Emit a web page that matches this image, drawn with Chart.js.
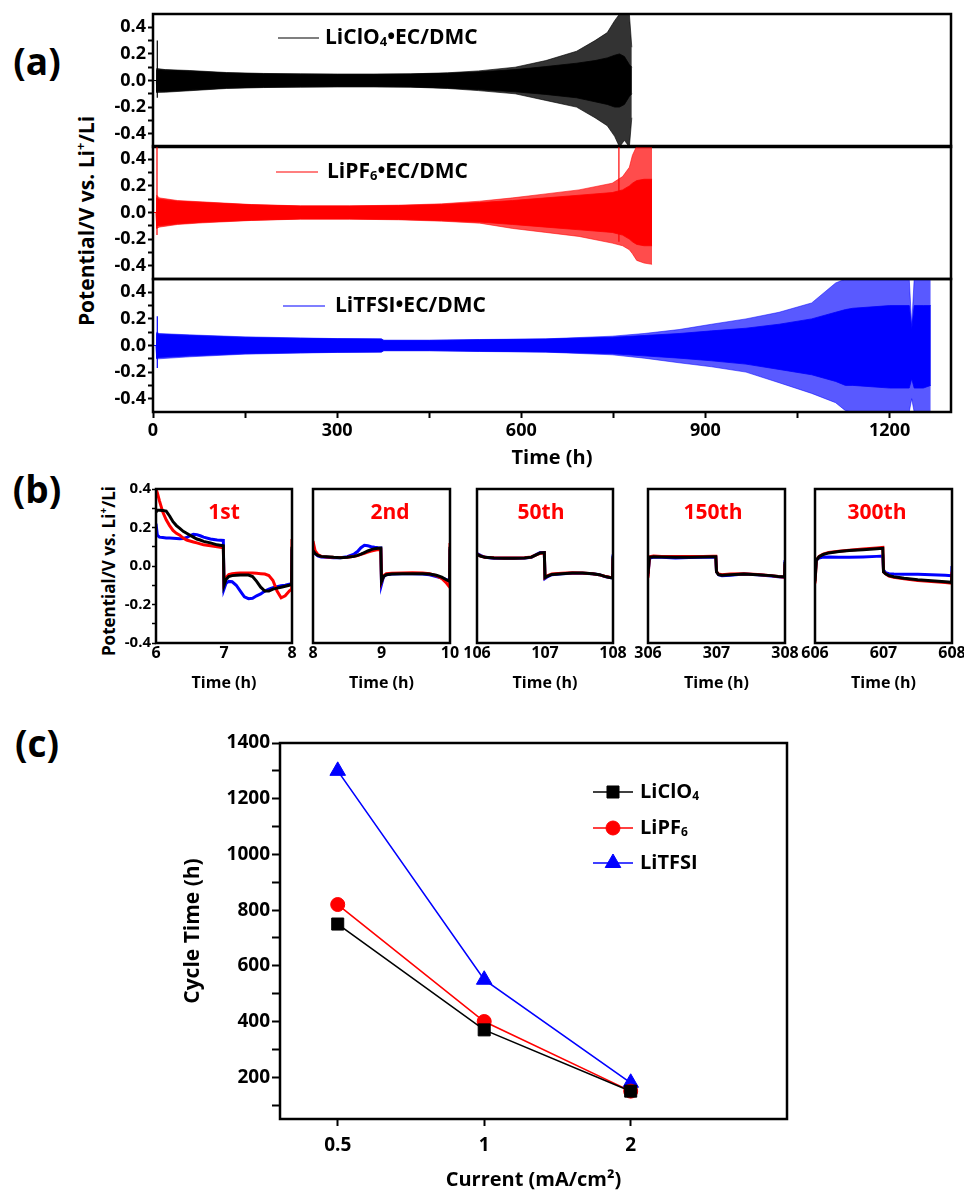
<!DOCTYPE html>
<html>
<head>
<meta charset="utf-8">
<title>Li | Li cycling in three electrolytes</title>
<script src="https://cdn.jsdelivr.net/npm/chart.js@4.4.1/dist/chart.umd.min.js"></script>
<style>
  body { margin: 0; background: #fff; }
  #page { position: relative; width: 964px; height: 1193px; overflow: hidden;
          font-family: 'Open Sans', sans-serif; font-weight: 700; color: #000; }
  #page canvas { position: absolute; }
  .tag { position: absolute; font-size: 37px; line-height: 1; transform: translate(-50%, -50%); }
  .ytitle { position: absolute; white-space: nowrap; line-height: 1;
            transform: translate(-50%, -50%) rotate(-90deg); }
  .ytitle sup { font-size: 0.6em; vertical-align: 0.7em; line-height: 0; }
</style>
</head>
<body>
<div id="page">
  <div class="tag" style="left:37px;top:60px">(a)</div>
  <div class="tag" style="left:37px;top:488px">(b)</div>
  <div class="tag" style="left:37px;top:742px">(c)</div>
  <div class="ytitle" style="left:86px;top:221px;font-size:21px">Potential/V vs. Li<sup>+</sup>/Li</div>
  <div class="ytitle" style="left:108px;top:571px;font-size:17px">Potential/V vs. Li<sup>+</sup>/Li</div>
</div>
<script>
// ---------- (a) long cycling: envelope of the voltage trace (upper / lower) ----------
const aXTicks  = [0, 150, 300, 450, 600, 750, 900, 1050, 1200];
const aXLabels = ['0', '', '300', '', '600', '', '900', '', '1200'];
const aYTicks  = [-0.4, -0.3, -0.2, -0.1, 0, 0.1, 0.2, 0.3, 0.4];
const aYLabels = ['-0.4', '', '-0.2', '', '0.0', '', '0.2', '', '0.4'];

// LiClO4 / EC-DMC
const clo4Time   = [0, 5.5, 6, 20, 60, 120, 180, 240, 300, 360, 420, 480, 530, 590, 640, 690, 720, 740, 752, 760, 768, 776, 780];
const clo4Hi     = [0, 0, 0.09, 0.082, 0.075, 0.06, 0.053, 0.05, 0.048, 0.048, 0.05, 0.058, 0.072, 0.1, 0.15, 0.22, 0.3, 0.36, 0.45, 0.5, 0.5, 0.5, 0.25];
const clo4Lo     = [0, 0, -0.09, -0.088, -0.077, -0.06, -0.053, -0.05, -0.048, -0.048, -0.05, -0.06, -0.076, -0.1, -0.15, -0.2, -0.28, -0.34, -0.42, -0.5, -0.45, -0.5, -0.28];
const clo4CoreHi = [0, 0, 0.08, 0.078, 0.07, 0.056, 0.05, 0.047, 0.046, 0.046, 0.048, 0.054, 0.064, 0.082, 0.105, 0.13, 0.15, 0.17, 0.19, 0.2, 0.18, 0.12, 0.1];
const clo4CoreLo = [0, 0, -0.08, -0.082, -0.072, -0.056, -0.05, -0.047, -0.046, -0.046, -0.048, -0.056, -0.068, -0.085, -0.105, -0.13, -0.16, -0.18, -0.2, -0.2, -0.18, -0.12, -0.1];
const clo4SpikeT = [7];
const clo4SpikeLo = [-0.13];
const clo4SpikeHi = [0.3];

// LiPF6 / EC-DMC
const pf6Time   = [0, 5, 6, 10, 40, 80, 160, 240, 320, 400, 470, 532, 586, 640, 694, 748, 765, 776, 781, 788, 800, 813];
const pf6Hi     = [0, 0, 0.13, 0.11, 0.09, 0.08, 0.06, 0.05, 0.05, 0.055, 0.065, 0.085, 0.11, 0.14, 0.17, 0.22, 0.27, 0.34, 0.43, 0.5, 0.5, 0.5];
const pf6Lo     = [0, 0, -0.12, -0.11, -0.09, -0.078, -0.06, -0.05, -0.05, -0.055, -0.065, -0.08, -0.12, -0.15, -0.18, -0.23, -0.25, -0.28, -0.31, -0.36, -0.38, -0.39];
const pf6CoreHi = [0, 0, 0.11, 0.1, 0.085, 0.075, 0.058, 0.048, 0.048, 0.052, 0.06, 0.075, 0.09, 0.11, 0.13, 0.15, 0.17, 0.2, 0.22, 0.24, 0.25, 0.25];
const pf6CoreLo = [0, 0, -0.1, -0.1, -0.085, -0.073, -0.058, -0.048, -0.048, -0.052, -0.06, -0.072, -0.09, -0.11, -0.13, -0.15, -0.17, -0.2, -0.22, -0.24, -0.25, -0.25];
const pf6SpikeT  = [6.5, 759];
const pf6SpikeLo = [-0.17, -0.22];
const pf6SpikeHi = [0.5, 0.5];

// LiTFSI / EC-DMC
const tfsiTime   = [0, 5, 6, 10, 60, 150, 240, 300, 372, 376, 450, 532, 640, 748, 800, 857, 910, 966, 1020, 1073, 1112, 1128, 1140, 1200, 1232, 1236, 1240, 1255, 1267];
const tfsiHi     = [0, 0, 0.1, 0.09, 0.08, 0.065, 0.057, 0.052, 0.05, 0.04, 0.04, 0.045, 0.05, 0.07, 0.09, 0.12, 0.16, 0.2, 0.25, 0.32, 0.47, 0.5, 0.5, 0.5, 0.5, 0.15, 0.5, 0.5, 0.5];
const tfsiLo     = [0, 0, -0.1, -0.1, -0.085, -0.065, -0.057, -0.052, -0.05, -0.04, -0.04, -0.045, -0.05, -0.07, -0.095, -0.13, -0.16, -0.2, -0.28, -0.36, -0.43, -0.49, -0.5, -0.5, -0.5, -0.4, -0.5, -0.5, -0.5];
const tfsiCoreHi = [0, 0, 0.09, 0.085, 0.075, 0.06, 0.054, 0.05, 0.048, 0.038, 0.038, 0.043, 0.048, 0.062, 0.075, 0.09, 0.11, 0.13, 0.16, 0.2, 0.25, 0.27, 0.28, 0.3, 0.3, 0.12, 0.3, 0.3, 0.3];
const tfsiCoreLo = [0, 0, -0.09, -0.09, -0.078, -0.06, -0.054, -0.05, -0.048, -0.038, -0.038, -0.043, -0.048, -0.062, -0.078, -0.095, -0.115, -0.14, -0.18, -0.22, -0.27, -0.3, -0.3, -0.32, -0.32, -0.25, -0.32, -0.32, -0.3];
const tfsiSpikeT  = [7];
const tfsiSpikeLo = [-0.17];
const tfsiSpikeHi = [0.22];

// ---------- (b) single cycles (black = LiClO4, red = LiPF6, blue = LiTFSI) ----------
const bYTicks  = [-0.4, -0.3, -0.2, -0.1, 0, 0.1, 0.2, 0.3, 0.4];
const bYLabels = ['-0.4', '', '-0.2', '', '0.0', '', '0.2', '', '0.4'];
const bCycleNames = ['1st', '2nd', '50th', '150th', '300th'];

const b1Ticks = [6, 7, 8];
const b1Time  = [6.00, 6.02, 6.05, 6.10, 6.15, 6.20, 6.25, 6.30, 6.35, 6.40, 6.45, 6.50, 6.55, 6.60, 6.65, 6.70, 6.80, 6.90, 6.99, 7.00,
                 7.03, 7.07, 7.12, 7.18, 7.24, 7.30, 7.36, 7.42, 7.48, 7.54, 7.60, 7.66, 7.72, 7.78, 7.84, 7.90, 7.96, 7.995, 8.00];
const b1ClO4  = [0.28, 0.29, 0.29, 0.288, 0.285, 0.26, 0.23, 0.21, 0.195, 0.18, 0.17, 0.16, 0.15, 0.14, 0.135, 0.128, 0.12, 0.11, 0.105, -0.1,
                 -0.07, -0.055, -0.05, -0.048, -0.047, -0.047, -0.047, -0.055, -0.08, -0.11, -0.13, -0.13, -0.12, -0.115, -0.11, -0.105, -0.1, -0.095, 0.1];
const b1PF6   = [0.4, 0.38, 0.34, 0.28, 0.24, 0.21, 0.185, 0.17, 0.16, 0.145, 0.135, 0.13, 0.125, 0.12, 0.115, 0.11, 0.105, 0.1, 0.095, -0.085,
                 -0.06, -0.045, -0.04, -0.038, -0.037, -0.036, -0.036, -0.037, -0.038, -0.04, -0.042, -0.05, -0.075, -0.13, -0.165, -0.155, -0.13, -0.12, 0.14];
const b1TFSI  = [0.22, 0.16, 0.15, 0.148, 0.146, 0.145, 0.144, 0.143, 0.142, 0.143, 0.148, 0.158, 0.165, 0.163, 0.157, 0.15, 0.14, 0.135, 0.133, -0.12,
                 -0.09, -0.08, -0.082, -0.1, -0.13, -0.16, -0.17, -0.168, -0.155, -0.145, -0.13, -0.12, -0.113, -0.108, -0.103, -0.1, -0.095, -0.092, 0.09];

const b2Ticks = [8, 9, 10];
const b2Time  = [8.00, 8.03, 8.07, 8.12, 8.2, 8.3, 8.4, 8.5, 8.6, 8.65, 8.7, 8.75, 8.8, 8.85, 8.9, 8.95, 8.99, 9.00, 9.03, 9.07,
                 9.15, 9.3, 9.45, 9.6, 9.7, 9.8, 9.88, 9.94, 9.995, 10.00];
const b2ClO4  = [0.08, 0.065, 0.055, 0.05, 0.048, 0.045, 0.043, 0.045, 0.05, 0.055, 0.062, 0.07, 0.078, 0.085, 0.09, 0.092, 0.093, -0.08, -0.055, -0.045,
                 -0.042, -0.04, -0.04, -0.04, -0.042, -0.048, -0.058, -0.07, -0.08, 0.1];
const b2PF6   = [0.13, 0.08, 0.06, 0.05, 0.047, 0.045, 0.044, 0.045, 0.05, 0.054, 0.06, 0.066, 0.072, 0.078, 0.082, 0.085, 0.086, -0.08, -0.05, -0.04,
                 -0.038, -0.036, -0.035, -0.036, -0.04, -0.05, -0.065, -0.085, -0.11, 0.12];
const b2TFSI  = [0.09, 0.065, 0.052, 0.047, 0.045, 0.043, 0.043, 0.048, 0.062, 0.075, 0.095, 0.108, 0.105, 0.1, 0.097, 0.095, 0.094, -0.095, -0.055, -0.045,
                 -0.042, -0.04, -0.04, -0.042, -0.046, -0.055, -0.062, -0.07, -0.078, 0.09];

const b3Ticks = [106, 107, 108];
const b3Time  = [106.00, 106.05, 106.12, 106.25, 106.4, 106.55, 106.7, 106.8, 106.87, 106.93, 106.99,
                 107.00, 107.04, 107.1, 107.25, 107.4, 107.55, 107.7, 107.8, 107.88, 107.95, 107.995, 108.00];
const b3ClO4  = [0.06, 0.052, 0.045, 0.041, 0.04, 0.04, 0.042, 0.046, 0.058, 0.068, 0.07,
                 -0.06, -0.052, -0.044, -0.04, -0.037, -0.037, -0.04, -0.045, -0.054, -0.06, -0.062, 0.05];
const b3PF6   = [0.06, 0.052, 0.046, 0.043, 0.042, 0.041, 0.043, 0.047, 0.058, 0.066, 0.068,
                 -0.06, -0.05, -0.042, -0.038, -0.035, -0.036, -0.04, -0.046, -0.053, -0.058, -0.06, 0.04];
const b3TFSI  = [0.065, 0.055, 0.045, 0.04, 0.04, 0.04, 0.041, 0.045, 0.06, 0.07, 0.07,
                 -0.065, -0.055, -0.045, -0.04, -0.038, -0.038, -0.04, -0.045, -0.055, -0.06, -0.062, 0.06];

const b4Ticks = [306, 307, 308];
const b4Time  = [306.00, 306.02, 306.08, 306.2, 306.4, 306.6, 306.8, 306.95, 306.99,
                 307.00, 307.03, 307.08, 307.2, 307.4, 307.6, 307.8, 307.9, 307.995, 308.00];
const b4ClO4  = [-0.04, 0.045, 0.048, 0.047, 0.046, 0.046, 0.047, 0.048, 0.048,
                 -0.03, -0.045, -0.048, -0.045, -0.042, -0.045, -0.05, -0.054, -0.056, 0.02];
const b4PF6   = [-0.06, 0.048, 0.052, 0.05, 0.05, 0.05, 0.05, 0.051, 0.051,
                 -0.03, -0.042, -0.045, -0.042, -0.04, -0.044, -0.05, -0.055, -0.058, 0.01];
const b4TFSI  = [-0.05, 0.04, 0.046, 0.045, 0.042, 0.044, 0.045, 0.046, 0.046,
                 -0.03, -0.045, -0.05, -0.048, -0.042, -0.045, -0.052, -0.056, -0.058, 0.03];

const b5Ticks = [606, 607, 608];
const b5Time  = [606.00, 606.02, 606.06, 606.12, 606.2, 606.35, 606.5, 606.7, 606.9, 606.99,
                 607.00, 607.03, 607.08, 607.15, 607.3, 607.5, 607.7, 607.9, 607.995, 608.00];
const b5ClO4  = [-0.08, 0.03, 0.048, 0.06, 0.068, 0.075, 0.08, 0.085, 0.09, 0.092,
                 -0.03, -0.04, -0.05, -0.056, -0.064, -0.072, -0.077, -0.082, -0.085, -0.04];
const b5PF6   = [-0.09, 0.03, 0.05, 0.062, 0.07, 0.077, 0.082, 0.088, 0.094, 0.097,
                 -0.03, -0.04, -0.052, -0.058, -0.066, -0.075, -0.081, -0.086, -0.089, -0.03];
const b5TFSI  = [-0.05, 0.03, 0.042, 0.046, 0.047, 0.046, 0.045, 0.047, 0.05, 0.052,
                 -0.02, -0.035, -0.04, -0.042, -0.043, -0.043, -0.045, -0.048, -0.05, 0.0];

// ---------- (c) cycle time vs current density ----------
const currentLabels = ['0.5', '1', '2'];
const currentIdx    = [0, 1, 2];
const cycleClO4 = [750, 370, 150];
const cyclePF6  = [820, 400, 150];
const cycleTFSI = [1300, 550, 180];
const cYTicks  = [100, 200, 300, 400, 500, 600, 700, 800, 900, 1000, 1100, 1200, 1300, 1400];
const cYLabels = ['', '200', '', '400', '', '600', '', '800', '', '1000', '', '1200', '', '1400'];

// ---------- helpers ----------
Chart.defaults.font.family = '"Open Sans", sans-serif';
Chart.defaults.font.weight = 'bold';
Chart.defaults.color = '#000';
Chart.defaults.animation = false;
Chart.defaults.plugins.legend.display = false;
Chart.defaults.plugins.tooltip.enabled = false;
Chart.defaults.elements.point.radius = 0;
Chart.defaults.elements.line.tension = 0;

const page = document.getElementById('page');
const BLACK = '#000000', RED = '#ff0000', BLUE = '#0000ff';

function makeCanvas(left, top, w, h) {
  const c = document.createElement('canvas');
  c.width = w; c.height = h;
  c.style.left = left + 'px'; c.style.top = top + 'px';
  c.style.width = w + 'px'; c.style.height = h + 'px';
  page.appendChild(c);
  return c;
}
const pts = (xs, ys) => xs.map((x, i) => ({x: x, y: ys[i]}));
function spikePts(ts, lo, hi) {
  const out = [];
  ts.forEach((t, i) => { out.push({x: t, y: lo[i]}, {x: t, y: hi[i]}, {x: t, y: null}); });
  return out;
}

function drawRich(ctx, x, y, parts, size, align) {
  const fontFor = sub => `bold ${sub ? Math.round(size * 0.62) : size}px "Open Sans", sans-serif`;
  let w = 0;
  parts.forEach(([t, sub]) => { ctx.font = fontFor(sub); w += ctx.measureText(t).width; });
  if (align === 'center') x -= w / 2;
  ctx.textAlign = 'left';
  ctx.textBaseline = 'middle';
  parts.forEach(([t, sub]) => {
    ctx.font = fontFor(sub);
    ctx.fillText(t, x, sub ? y + size * 0.22 : y);
    x += ctx.measureText(t).width;
  });
}

const frame = {
  id: 'frame',
  afterDatasetsDraw(chart) {
    const {ctx, chartArea: a} = chart;
    ctx.save();
    ctx.strokeStyle = '#000';
    ctx.lineWidth = 2.5;
    ctx.strokeRect(a.left, a.top, a.right - a.left, a.bottom - a.top);
    ctx.restore();
  }
};

// labels / legend samples, given in page coordinates
function makeNote(items, ox, oy) {
  return {
    id: 'note',
    afterDraw(chart) {
      const ctx = chart.ctx;
      ctx.save();
      items.forEach(it => {
        const y = it.y - oy;
        if (it.line) {
          ctx.strokeStyle = it.lineColor;
          ctx.lineWidth = it.lineWidth || 1.2;
          ctx.beginPath();
          ctx.moveTo(it.line[0] - ox, y);
          ctx.lineTo(it.line[1] - ox, y);
          ctx.stroke();
        }
        if (it.marker) {
          ctx.fillStyle = it.lineColor;
          ctx.strokeStyle = it.lineColor;
          ctx.lineWidth = 1;
          Chart.helpers.drawPoint(ctx, {pointStyle: it.marker, radius: it.radius, rotation: 0, borderWidth: 1},
                                  (it.line[0] + it.line[1]) / 2 - ox, y);
        }
        ctx.fillStyle = it.color || '#000';
        drawRich(ctx, it.x - ox, y, it.parts, it.size, it.align);
      });
      ctx.restore();
    }
  };
}

// ---------- (a) ----------
function bandSets(time, hi, lo, coreHi, coreLo, sT, sLo, sHi, color, soft) {
  return [
    {data: pts(time, hi), borderColor: soft, borderWidth: 0.8, fill: false},
    {data: pts(time, lo), borderColor: soft, borderWidth: 0.8, backgroundColor: soft, fill: '-1'},
    {data: pts(time, coreHi), borderColor: color, borderWidth: 0.8, fill: false},
    {data: pts(time, coreLo), borderColor: color, borderWidth: 0.8, backgroundColor: color, fill: '-1'},
    {data: spikePts(sT, sLo, sHi), borderColor: color, borderWidth: 1.2, fill: false, spanGaps: false}
  ];
}

function aPanel(top, padTop, padBottom, withX, sets, note) {
  const h = padTop + 133 + (withX ? 60 : 0) + padBottom;
  const cv = makeCanvas(0, top, 964, h);
  new Chart(cv, {
    type: 'line',
    data: {datasets: sets},
    options: {
      responsive: false,
      layout: {padding: {left: 0, right: 13, top: padTop, bottom: padBottom}},
      scales: {
        x: {
          type: 'linear', min: 0, max: 1300, display: withX,
          afterBuildTicks: s => { s.ticks = aXTicks.map(v => ({value: v})); },
          afterFit: s => { s.height = withX ? 60 : 0; },
          ticks: {font: {size: 18}, padding: 2, maxRotation: 0, autoSkip: false, callback: (v, i) => aXLabels[i]},
          grid: {drawOnChartArea: false, tickLength: 6, tickWidth: 2, color: '#000'},
          border: {display: false},
          title: {display: true, text: 'Time (h)', font: {size: 20}, padding: {top: 2, bottom: 2}}
        },
        y: {
          min: -0.5, max: 0.5,
          afterBuildTicks: s => { s.ticks = aYTicks.map(v => ({value: v})); },
          afterFit: s => { s.width = 153; },
          ticks: {font: {size: 18}, padding: 2, autoSkip: false, callback: (v, i) => aYLabels[i]},
          grid: {drawOnChartArea: false, tickLength: 5, tickWidth: 2, color: '#000'},
          border: {display: false}
        }
      }
    },
    plugins: [frame, makeNote(note, 0, top)]
  });
}

aPanel(0, 14, 14, false,
  bandSets(clo4Time, clo4Hi, clo4Lo, clo4CoreHi, clo4CoreLo, clo4SpikeT, clo4SpikeLo, clo4SpikeHi, BLACK, 'rgba(0,0,0,0.8)'),
  [{x: 325, y: 38, line: [278, 319], lineColor: BLACK, size: 21, parts: [['LiClO', 0], ['4', 1], ['\u2022EC/DMC', 0]]}]);
aPanel(133, 13, 14, false,
  bandSets(pf6Time, pf6Hi, pf6Lo, pf6CoreHi, pf6CoreLo, pf6SpikeT, pf6SpikeLo, pf6SpikeHi, RED, 'rgba(255,0,0,0.7)'),
  [{x: 327, y: 172, line: [276, 318], lineColor: RED, size: 21, parts: [['LiPF', 0], ['6', 1], ['\u2022EC/DMC', 0]]}]);
aPanel(265, 14, 0, true,
  bandSets(tfsiTime, tfsiHi, tfsiLo, tfsiCoreHi, tfsiCoreLo, tfsiSpikeT, tfsiSpikeLo, tfsiSpikeHi, BLUE, 'rgba(0,0,255,0.65)'),
  [{x: 335, y: 306, line: [283, 325], lineColor: BLUE, size: 21, parts: [['LiTFSI\u2022EC/DMC', 0]]}]);

// ---------- (b) ----------
const bBoxes = [[156, 292], [313, 450], [477, 613], [648, 785], [815, 952]];
const bLabelX = [224, 390, 541, 713, 877];
const B_TOP = 489, B_BOTTOM = 643;

function bPanel(i, time, clo4, pf6, tfsi, xTicks) {
  const [l, r] = bBoxes[i];
  const first = i === 0;
  const padL = first ? 0 : 20, yW = first ? 50 : 0, padR = 18;
  const cl = l - yW - padL;
  const w = r - cl + padR;
  const top = B_TOP - 10;
  const h = 10 + (B_BOTTOM - B_TOP) + 55;
  const cv = makeCanvas(cl, top, w, h);
  const series = [[clo4, BLACK], [pf6, RED], [tfsi, BLUE]];
  new Chart(cv, {
    type: 'line',
    data: {datasets: series.map(([ys, c]) => ({data: pts(time, ys), borderColor: c, borderWidth: 3, fill: false}))},
    options: {
      responsive: false,
      layout: {padding: {left: padL, right: padR, top: 10, bottom: 0}},
      scales: {
        x: {
          type: 'linear', min: xTicks[0], max: xTicks[xTicks.length - 1],
          afterBuildTicks: s => { s.ticks = xTicks.map(v => ({value: v})); },
          afterFit: s => { s.height = 55; },
          ticks: {font: {size: 16}, padding: 1, maxRotation: 0, autoSkip: false, callback: v => String(v)},
          grid: {drawOnChartArea: false, drawTicks: false},
          border: {display: false},
          title: {display: true, text: 'Time (h)', font: {size: 16}, padding: {top: 5, bottom: 5}}
        },
        y: {
          min: -0.4, max: 0.4, display: first,
          afterBuildTicks: s => { s.ticks = bYTicks.map(v => ({value: v})); },
          afterFit: s => { s.width = yW; },
          ticks: {font: {size: 15}, padding: 1, autoSkip: false, callback: (v, k) => bYLabels[k]},
          grid: {drawOnChartArea: false, tickLength: 4, tickWidth: 1.5, color: '#000'},
          border: {display: false}
        }
      }
    },
    plugins: [frame, makeNote([{x: bLabelX[i], y: 513, size: 21, color: RED, align: 'center', parts: [[bCycleNames[i], 0]]}], cl, top)]
  });
}

bPanel(0, b1Time, b1ClO4, b1PF6, b1TFSI, b1Ticks);
bPanel(1, b2Time, b2ClO4, b2PF6, b2TFSI, b2Ticks);
bPanel(2, b3Time, b3ClO4, b3PF6, b3TFSI, b3Ticks);
bPanel(3, b4Time, b4ClO4, b4PF6, b4TFSI, b4Ticks);
bPanel(4, b5Time, b5ClO4, b5PF6, b5TFSI, b5Ticks);

// ---------- (c) ----------
(function () {
  const left = 150, top = 723;
  const cv = makeCanvas(left, top, 814, 470);
  const line = (ys, c, style, r) => ({
    data: pts(currentIdx, ys), borderColor: c, backgroundColor: c, borderWidth: 1.6, fill: false,
    pointStyle: style, pointRadius: r, pointBackgroundColor: c, pointBorderColor: c, pointBorderWidth: 1
  });
  new Chart(cv, {
    type: 'line',
    data: {datasets: [
      line(cycleClO4, BLACK, 'rect', 8.5),
      line(cyclePF6, RED, 'circle', 7),
      line(cycleTFSI, BLUE, 'triangle', 9)
    ]},
    options: {
      responsive: false,
      layout: {padding: {left: 0, right: 177, top: 20, bottom: 0}},
      scales: {
        x: {
          type: 'linear', min: -0.394, max: 3.067,
          afterBuildTicks: s => { s.ticks = currentIdx.map(v => ({value: v})); },
          afterFit: s => { s.height = 74; },
          ticks: {font: {size: 19}, padding: 8, maxRotation: 0, autoSkip: false, callback: (v, i) => currentLabels[i]},
          grid: {drawOnChartArea: false, tickLength: 7, tickWidth: 2, color: '#000'},
          border: {display: false},
          title: {display: true, text: 'Current (mA/cm\u00b2)', font: {size: 20}, padding: {top: 0, bottom: 1}}
        },
        y: {
          min: 50, max: 1400,
          afterBuildTicks: s => { s.ticks = cYTicks.map(v => ({value: v})); },
          afterFit: s => { s.width = 130; },
          ticks: {font: {size: 19}, padding: 2, autoSkip: false, callback: (v, i) => cYLabels[i]},
          grid: {drawOnChartArea: false, tickLength: 8, tickWidth: 2, color: '#000'},
          border: {display: false},
          title: {display: true, text: 'Cycle Time (h)', font: {size: 21}, padding: {top: 30, bottom: 0}}
        }
      }
    },
    plugins: [frame, makeNote([
      {x: 640, y: 792, line: [593, 633], lineColor: BLACK, lineWidth: 1.6, marker: 'rect', radius: 8.5, size: 20, parts: [['LiClO', 0], ['4', 1]]},
      {x: 640, y: 828, line: [593, 633], lineColor: RED, lineWidth: 1.6, marker: 'circle', radius: 7, size: 20, parts: [['LiPF', 0], ['6', 1]]},
      {x: 640, y: 863, line: [593, 633], lineColor: BLUE, lineWidth: 1.6, marker: 'triangle', radius: 9, size: 20, parts: [['LiTFSI', 0]]}
    ], left, top)]
  });
})();
</script>
</body>
</html>
